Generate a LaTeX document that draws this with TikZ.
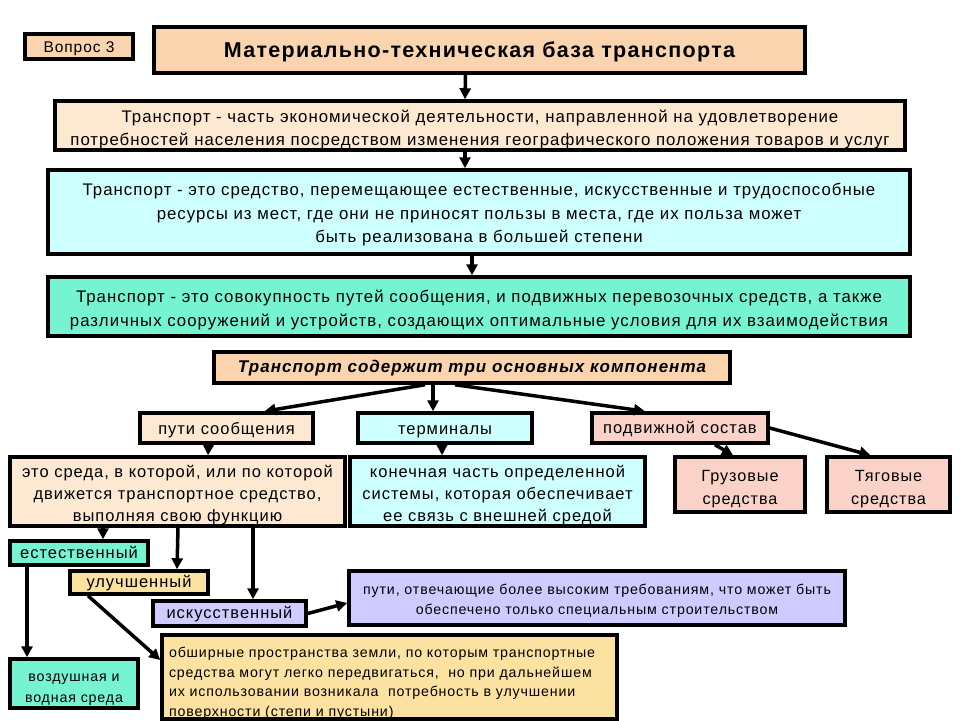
\documentclass[tikz,border=0pt]{standalone}
\usepackage{fontspec}
\setmainfont{Liberation Sans}[LetterSpace=6]
\usetikzlibrary{arrows.meta,calc}
\definecolor{peach}{RGB}{250,212,175}
\definecolor{lpeach}{RGB}{253,232,210}
\definecolor{lcyan}{RGB}{206,255,255}
\definecolor{aqua}{RGB}{118,244,210}
\definecolor{pinkc}{RGB}{250,210,200}
\definecolor{yell}{RGB}{252,226,160}
\definecolor{lav}{RGB}{206,204,255}
\newcommand{\tstr}[1]{\rule{0pt}{#1pt}}
\tikzset{
  bx/.style={draw=black, line width=3.5pt, inner sep=0pt, align=center, font=\fontsize{16.5}{22}\selectfont},
  big/.style={font=\fontsize{16.8}{23.5}\selectfont},
  small/.style={font=\fontsize{14.2}{19.5}\selectfont},
  one/.style={text height=#1pt, text depth=4pt},
  arr/.style={line width=3.5pt, -{Triangle[length=11pt,width=11pt]}},
}
\begin{document}
\begin{tikzpicture}[x=1pt,y=-1pt]
\useasboundingbox (0,0) rectangle (960,720);
\fill[white] (0,0) rectangle (960,720);
\node[bx, fill=peach, minimum width=108pt, minimum height=25pt, font=\fontsize{15.5}{17}\selectfont, one=15] (q3) at (79,46.5) {Вопрос 3};
\node[bx, fill=peach, minimum width=651pt, minimum height=46pt, font=\fontsize{21.5}{24}\selectfont\bfseries, text height=20pt, text depth=5pt] (title) at (479.5,50) {Материально-техническая база транспорта};
\node[bx, big, fill=lpeach, minimum width=850pt, minimum height=49pt, font=\fontsize{16.8}{23}\selectfont] (b2) at (480,125.5) {\tstr{20}Транспорт - часть экономической деятельности, направленной на удовлетворение\\потребностей населения посредством изменения географического положения товаров и услуг};
\node[bx, big, fill=lcyan, minimum width=862pt, minimum height=84pt] (b3) at (479,212) {\tstr{18}Транспорт - это средство, перемещающее естественные, искусственные и трудоспособные\\ресурсы из мест, где они не приносят пользы в места, где их польза может\\быть реализована в большей степени};
\node[bx, big, fill=aqua, minimum width=862pt, minimum height=59pt, font=\fontsize{16.8}{24}\selectfont] (b4) at (479,306.5) {\tstr{20}Транспорт - это совокупность путей сообщения, и подвижных перевозочных средств, а также\\различных сооружений и устройств, создающих оптимальные условия для их взаимодействия};
\node[bx, fill=peach, minimum width=516pt, minimum height=31pt, font=\fontsize{17}{20}\selectfont\bfseries\itshape, text height=15pt, text depth=5pt] (b5) at (472,367.5) {Транспорт содержит три основных компонента};
\node[bx, fill=lpeach, minimum width=173pt, minimum height=30pt, one=16.6] (ps) at (226.5,428) {пути сообщения};
\node[bx, fill=lcyan, minimum width=174pt, minimum height=30pt, one=16.6] (term) at (445,428) {терминалы};
\node[bx, fill=pinkc, minimum width=176pt, minimum height=30pt, one=14.6] (pod) at (680,428) {подвижной состав};
\node[bx, fill=lpeach, minimum width=335pt, minimum height=69pt] (b10) at (177.5,491.5) {\tstr{19}это среда, в которой, или по которой\\движется транспортное средство,\\выполняя свою функцию};
\node[bx, fill=lcyan, minimum width=295pt, minimum height=69pt] (b11) at (497.5,491.5) {\tstr{19}конечная часть определенной\\системы, которая обеспечивает\\ее связь с внешней средой};
\node[bx, fill=pinkc, minimum width=130pt, minimum height=55pt, font=\fontsize{16.2}{23}\selectfont] (gruz) at (740,484.5) {\tstr{20}Грузовые\\средства};
\node[bx, fill=pinkc, minimum width=123pt, minimum height=55pt, font=\fontsize{16.2}{23}\selectfont] (tyag) at (888.5,484.5) {\tstr{20}Тяговые\\средства};
\node[bx, fill=aqua, minimum width=138pt, minimum height=24pt, one=14.6] (est) at (79,553) {естественный};
\node[bx, fill=yell, minimum width=138pt, minimum height=23pt, one=13.6] (ulu) at (139,582.5) {улучшенный};
\node[bx, fill=lav, minimum width=153pt, minimum height=25pt, one=13.6] (isk) at (229.5,613.5) {искусственный};
\node[bx, small, fill=lav, minimum width=496pt, minimum height=54pt, font=\fontsize{14.2}{20}\selectfont] (p2) at (597,598) {\tstr{15}пути, отвечающие более высоким требованиям, что может быть\\обеспечено только специальным строительством};
\node[bx, small, fill=yell, minimum width=455pt, minimum height=82pt, align=left, text width=441pt] (obsh) at (389.5,677) {\tstr{23}обширные пространства земли, по которым транспортные\\средства могут легко передвигаться,\ \ но при дальнейшем\\их использовании возникала\ \ потребность в улучшении\\поверхности (степи и пустыни)};
\node[bx, small, fill=aqua, minimum width=128pt, minimum height=49pt, font=\fontsize{14.2}{21}\selectfont] (vozd) at (74,683.5) {\tstr{20}воздушная и\\водная среда};
% arrows
\draw[arr] ([xshift=-14pt]title.south) -- ([xshift=-15pt]b2.north);
\draw[arr] ([xshift=-15pt]b2.south) -- ([xshift=-14pt]b3.north);
\draw[arr] ([xshift=-7pt]b3.south) -- ([xshift=-7pt]b4.north);
\draw[arr] ([xshift=-47pt]b5.south) -- ([xshift=38pt]ps.north);
\draw[arr] ([xshift=-39pt]b5.south) -- ([xshift=-12pt]term.north);
\draw[arr] ([xshift=-17pt]b5.south) -- ([xshift=-35pt]pod.north);
\draw[arr] ([xshift=-18pt]ps.south) -- ([xshift=30.5pt]b10.north);
\draw[arr] ([xshift=-3pt]term.south) -- ([xshift=-55.5pt]b11.north);
\draw[arr] ([xshift=35pt]pod.south) -- ([xshift=-7pt]gruz.north);
\draw[arr] (pod.east) -- ([xshift=-18pt]tyag.north);
\draw[arr] ([xshift=-74.5pt]b10.south) -- ([xshift=24pt]est.north);
\draw[arr] ([xshift=0.5pt]b10.south) -- ([xshift=38pt]ulu.north);
\draw[arr] ([xshift=75.5pt]b10.south) -- ([xshift=23.5pt]isk.north);
\draw[arr] ([xshift=-52pt]est.south) -- ([xshift=-47pt]vozd.north);
\draw[arr] ([xshift=-51pt]ulu.south) -- ([yshift=17pt]obsh.west);
\draw[arr] (isk.east) -- ([yshift=-5pt]p2.west);
\end{tikzpicture}
\end{document}
